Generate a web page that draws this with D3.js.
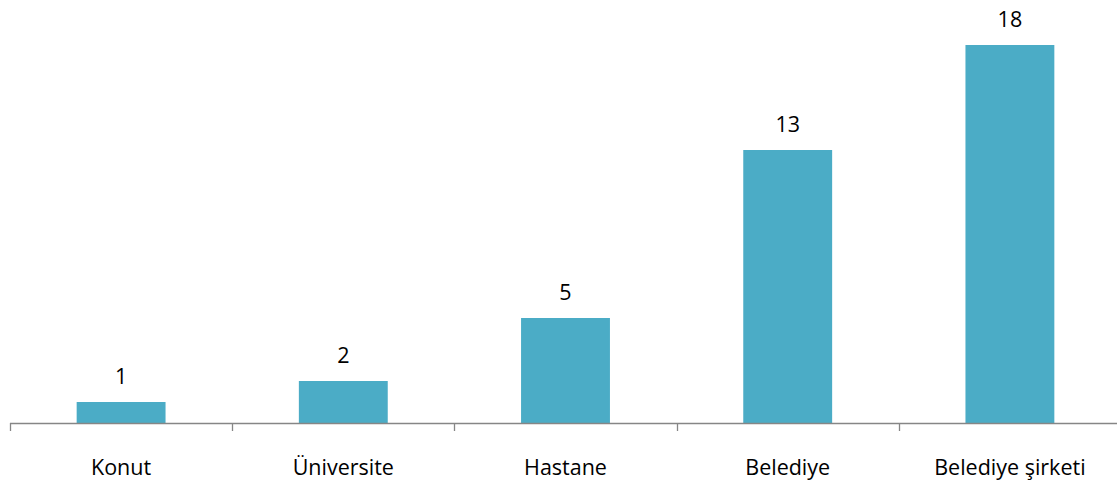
<!DOCTYPE html>
<html>
<head>
<meta charset="utf-8">
<script src="https://cdn.jsdelivr.net/npm/d3@7"></script>
<style>
  body { margin: 0; background: #fff; }
  text { font-family: "Open Sans", "Noto Sans", sans-serif; fill: #000; }
</style>
</head>
<body>
<svg id="chart" width="1117" height="482"></svg>
<script>
// categories and counts
const categories = ["Konut", "Üniversite", "Hastane", "Belediye", "Belediye şirketi"];
const counts = [1, 2, 5, 13, 18];
const yMax = 20;

const svg = d3.select("#chart");
const baseY = 423;

const x = d3.scaleBand()
  .domain(categories)
  .range([10, 1121])
  .paddingInner(0.6)
  .paddingOuter(0.3);

const y = d3.scaleLinear().domain([0, yMax]).range([baseY, 3]);

const step = x.step();
const data = categories.map((c, i) => ({ cat: c, val: counts[i] }));

// bars
svg.append("g").selectAll("rect")
  .data(data)
  .enter().append("rect")
  .attr("x", d => x(d.cat))
  .attr("y", d => y(d.val))
  .attr("width", x.bandwidth())
  .attr("height", d => y(0) - y(d.val))
  .attr("fill", "#4BACC6");

// value labels
svg.append("g").selectAll("text")
  .data(data)
  .enter().append("text")
  .attr("x", d => x(d.cat) + x.bandwidth() / 2)
  .attr("y", d => y(d.val) - 18)
  .attr("text-anchor", "middle")
  .style("font-size", "21.5px")
  .text(d => d.val);

// axis line + ticks at category boundaries
const axis = svg.append("g").attr("class", "x axis");
axis.append("line")
  .attr("x1", 10).attr("x2", 1117)
  .attr("y1", baseY + 0.5).attr("y2", baseY + 0.5)
  .attr("stroke", "#868686").attr("stroke-width", 1.3);

const bounds = categories.map(c => x(c) - step * 0.3);
axis.selectAll(".tick")
  .data(bounds)
  .enter().append("line")
  .attr("class", "tick")
  .attr("x1", d => Math.round(d) + 0.5).attr("x2", d => Math.round(d) + 0.5)
  .attr("y1", baseY).attr("y2", baseY + 8)
  .attr("stroke", "#868686").attr("stroke-width", 1.3);

axis.selectAll(".label")
  .data(categories)
  .enter().append("text")
  .attr("class", "label")
  .attr("x", d => x(d) + x.bandwidth() / 2)
  .attr("y", 475)
  .attr("text-anchor", "middle")
  .style("font-size", "21.5px")
  .text(d => d);
</script>
</body>
</html>
